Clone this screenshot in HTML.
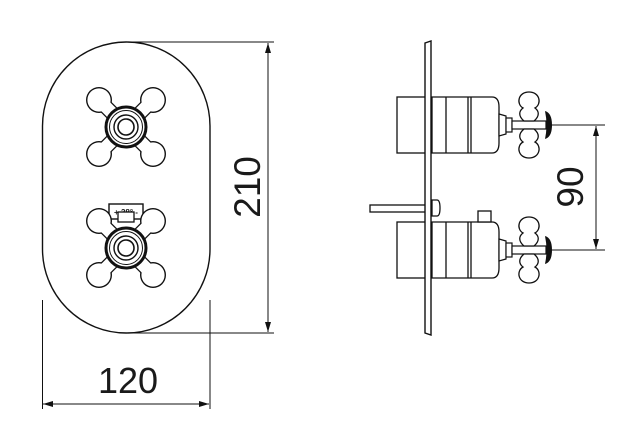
<!DOCTYPE html>
<html><head><meta charset="utf-8"><style>
html,body{margin:0;padding:0;background:#fff;}
svg{display:block;}
text{font-family:"Liberation Sans",Arial,sans-serif;fill:#1a1a1a;}
</style></head><body>
<svg width="622" height="442" viewBox="0 0 622 442" xmlns="http://www.w3.org/2000/svg">
<defs>
<marker id="ar" markerWidth="10" markerHeight="6" refX="10" refY="3" orient="auto" markerUnits="userSpaceOnUse">
<path d="M0,0 L10,3 L0,6 Z" fill="#111"/></marker>
<g id="cross">
 <g stroke="#111" stroke-linecap="butt">
  <line x1="-27" y1="-27" x2="27" y2="27" stroke-width="15"/>
  <line x1="27" y1="-27" x2="-27" y2="27" stroke-width="15"/>
 </g>
 <g fill="#111">
  <circle cx="-27" cy="-27" r="13"/><circle cx="27" cy="-27" r="13"/>
  <circle cx="-27" cy="27" r="13"/><circle cx="27" cy="27" r="13"/>
 </g>
 <g stroke="#fff" stroke-linecap="butt">
  <line x1="-27" y1="-27" x2="27" y2="27" stroke-width="12.5"/>
  <line x1="27" y1="-27" x2="-27" y2="27" stroke-width="12.5"/>
 </g>
 <g fill="#fff">
  <circle cx="-27" cy="-27" r="11.6"/><circle cx="27" cy="-27" r="11.6"/>
  <circle cx="-27" cy="27" r="11.6"/><circle cx="27" cy="27" r="11.6"/>
 </g>
 <circle r="20" fill="#fff" stroke="#111" stroke-width="3"/>
 <circle r="16.5" fill="#fff" stroke="#111" stroke-width="1"/>
 <circle r="12" fill="#fff" stroke="#111" stroke-width="1.4"/>
 <circle r="8" fill="#fff" stroke="#111" stroke-width="1.6"/>
</g>
<g id="side">
 <rect x="397" y="-28" width="30" height="56" fill="#fff" stroke="#111" stroke-width="1.3"/>
 <path d="M432,-28 H492 Q499,-28 499,-18 V18 Q499,28 492,28 H432 Z" fill="#fff" stroke="#111" stroke-width="1.3"/>
 <line x1="446" y1="-28" x2="446" y2="28" stroke="#111" stroke-width="1.3"/>
 <line x1="468" y1="-28" x2="468" y2="28" stroke="#111" stroke-width="1.3"/>
 <line x1="471" y1="-28" x2="471" y2="28" stroke="#111" stroke-width="1.3"/>
 <path d="M499,-11 L506,-9 V9 L499,11 Z" fill="#fff" stroke="#111" stroke-width="1.2"/>
 <rect x="506" y="-7" width="6" height="14" fill="#fff" stroke="#111" stroke-width="1.2"/>
 <rect x="512" y="-4" width="34" height="8" fill="#fff" stroke="#111" stroke-width="1.2"/>
 <g fill="#fff" stroke="#111" stroke-width="1.3">
  <path d="M524,-4 C518,-9 519,-14 523,-17 C516,-21 518,-33 529,-33 C540,-33 542,-21 535,-17 C539,-14 540,-9 534,-4 Z"/>
  <path d="M524,4 C518,9 519,14 523,17 C516,21 518,33 529,33 C540,33 542,21 535,17 C539,14 540,9 534,4 Z"/>
 </g>
 <path d="M545,-14 Q552,-12 552,0 Q552,12 545,14 Q548,0 545,-14 Z" fill="#111"/>
</g>
</defs>

<!-- front plate -->
<rect x="42.5" y="42" width="167.5" height="291" rx="84" ry="84" fill="#fff" stroke="#111" stroke-width="1.4"/>
<use href="#cross" x="126" y="127"/>
<rect x="109" y="204" width="34" height="15" fill="#fff" stroke="#111" stroke-width="1.4"/>
<text x="126" y="215" font-size="8" text-anchor="middle" font-weight="bold">+ 38° -</text>
<use href="#cross" x="126" y="248"/>
<rect x="118" y="212" width="16" height="10" fill="#fff" stroke="#111" stroke-width="1.3"/>

<!-- dimensions left -->
<g stroke="#111" stroke-width="1">
 <line x1="126" y1="42" x2="274" y2="42"/>
 <line x1="126" y1="333" x2="274" y2="333"/>
 <line x1="268" y1="43" x2="268" y2="332" marker-end="url(#ar)"/>
 <line x1="268" y1="332" x2="268" y2="43" marker-end="url(#ar)"/>
 <line x1="42.5" y1="300" x2="42.5" y2="409"/>
 <line x1="210" y1="300" x2="210" y2="409"/>
 <line x1="43" y1="404" x2="209" y2="404" marker-end="url(#ar)"/>
 <line x1="209" y1="404" x2="43" y2="404" marker-end="url(#ar)"/>
</g>
<text x="128" y="393" font-size="36" text-anchor="middle">120</text>
<text transform="translate(260,187) rotate(-90)" font-size="37" text-anchor="middle">210</text>

<!-- side view -->
<use href="#side" x="0" y="125"/>
<use href="#side" x="0" y="250"/>
<rect x="478" y="211" width="13" height="11" fill="#fff" stroke="#111" stroke-width="1.3"/>
<rect x="370" y="205" width="58" height="7" fill="#fff" stroke="#111" stroke-width="1.3"/>
<path d="M432,200 H437 Q440,200 440,208 Q440,216 437,216 H432 Z" fill="#fff" stroke="#111" stroke-width="1.3"/>
<path d="M425,43 L431,41 V335 L425,333 Z" fill="#fff" stroke="#111" stroke-width="1.4"/>

<g stroke="#111" stroke-width="1">
 <line x1="548" y1="125" x2="605" y2="125"/>
 <line x1="548" y1="250" x2="605" y2="250"/>
 <line x1="596" y1="126" x2="596" y2="249" marker-end="url(#ar)"/>
 <line x1="596" y1="249" x2="596" y2="126" marker-end="url(#ar)"/>
</g>
<text transform="translate(583,187) rotate(-90)" font-size="37" text-anchor="middle">90</text>
</svg>
</body></html>
